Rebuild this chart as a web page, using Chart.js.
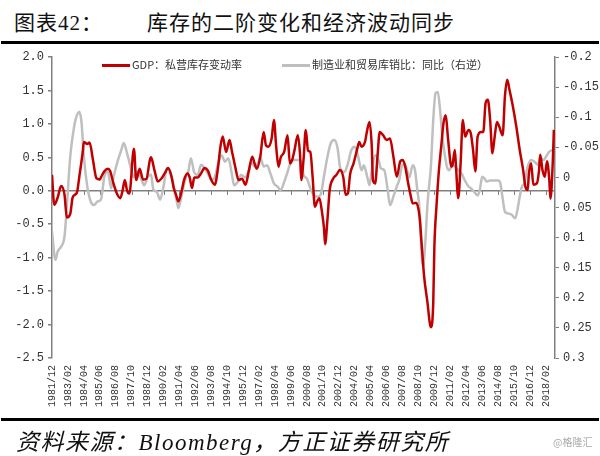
<!DOCTYPE html>
<html>
<head>
<meta charset="utf-8">
<script src="https://cdn.jsdelivr.net/npm/chart.js@4.4.0/dist/chart.umd.min.js"></script>
<style>
  body { margin: 0; background: #fff; }
  #wrap { position: relative; width: 600px; height: 456px; overflow: hidden; }
  .title { position: absolute; top: 6px; font-family: "Liberation Serif", "Noto Sans CJK SC", serif; font-size: 21px; color: #111; letter-spacing: 1px; }
  .rule { position: absolute; left: 1px; width: 598px; height: 3px; background: #000; }
  #legend { position: absolute; top: 56px; left: 102px; font-family: "Noto Sans CJK SC", sans-serif; font-size: 11px; color: #333; white-space: nowrap; }
  .item { position: absolute; top: 0; }
  .swatch { display: inline-block; width: 28px; height: 3px; vertical-align: middle; margin-right: 2px; position: relative; top: -1px; }
  #source { position: absolute; left: 16px; top: 423px; font-family: "Liberation Serif", "Noto Sans CJK SC", serif; font-style: italic; font-size: 23px; letter-spacing: 1.5px; color: #111; }
  #mark { position: absolute; left: 553px; top: 434px; font-family: "Noto Sans CJK SC", sans-serif; font-size: 10px; color: #aaa; }
  canvas { position: absolute; left: 0; top: 0; }
</style>
</head>
<body>
<div id="wrap">
  <div class="title" style="left:14px">图表42：</div>
  <div class="title" style="left:147px">库存的二阶变化和经济波动同步</div>
  <div class="rule" style="top:41px"></div>
  <canvas id="myChart" width="600" height="456"></canvas>
  <div id="legend"></div>
  <div class="rule" style="top:418px"></div>
  <div id="source">资料来源：Bloomberg，方正证券研究所</div>
  <div id="mark">@格隆汇</div>
</div>
<script>
// months counted from 1981/12
const startYear = 1981;
const startMonth = 12;
const lastMonth = 442;
const monthTickStep = 14;

const gdpLabel = 'GDP：私营库存变动率';
const gdpMonths = [0,2,5,8,11,13,16,18,20,22,24,27,28,31,33,36,39,42,43,46,49,51,54,57,60,62,64,66,68,72,74,77,80,83,86,87,90,93,96,99,102,105,107,109,111,114,116,119,121,123,125,128,131,134,137,140,143,146,148,150,153,156,158,161,164,167,170,173,176,178,180,183,186,188,190,193,195,197,199,201,204,207,209,211,213,216,218,219,221,223,225,227,229,231,233,235,237,239,240,242,244,247,250,253,256,258,260,262,265,268,270,272,275,277,279,281,282,284,286,288,291,294,297,300,303,306,308,310,313,315,317,320,323,325,327,330,332,333,335,336,338,340,342,344,346,348,351,352,354,355,357,359,361,363,366,368,370,372,374,377,379,381,383,385,387,389,391,393,396,398,400,402,405,408,411,414,416,418,419,421,423,426,428,429,431,433,435,437,438,440,441];
const gdpValues = [0.24,-0.21,-0.10,0.07,-0.06,-0.40,-0.35,-0.11,-0.06,-0.02,0.21,0.58,0.73,0.70,0.72,0.46,0.19,0.17,0.20,0.29,0.33,0.30,0.11,-0.04,-0.11,0.00,0.16,0.00,-0.04,0.63,0.16,0.33,0.17,0.18,0.46,0.50,0.31,0.14,0.18,0.26,0.34,0.21,0.04,-0.06,-0.16,0.00,0.16,0.26,0.20,0.04,0.20,0.20,0.26,0.34,0.30,0.16,0.09,0.36,0.66,0.81,0.58,0.76,0.60,0.36,0.16,0.18,0.09,0.30,0.51,0.41,0.33,0.51,0.88,0.68,0.66,0.78,1.06,0.66,0.36,0.50,0.58,0.83,0.41,0.46,0.60,0.83,0.53,0.16,0.46,0.91,0.60,0.58,0.21,-0.24,-0.16,-0.11,-0.29,-0.56,-0.80,-0.44,0.01,0.18,0.24,0.31,0.20,-0.06,-0.04,0.25,0.41,0.61,0.73,0.66,0.73,0.91,1.03,0.66,0.16,0.11,0.51,0.88,0.83,0.76,0.78,0.51,0.21,0.44,0.46,0.39,0.11,-0.06,-0.19,-0.18,-0.39,-0.84,-1.28,-1.68,-1.98,-2.04,-1.68,-0.84,-0.19,0.31,0.66,1.01,1.13,0.78,0.36,0.39,0.61,0.36,-0.11,0.39,1.06,0.81,0.91,0.86,0.61,0.29,0.81,0.88,0.88,1.31,1.36,1.06,0.56,0.81,1.03,0.96,0.83,1.41,1.66,1.51,1.26,0.96,0.61,0.31,0.06,0.01,0.24,0.41,0.09,0.11,0.31,0.54,0.31,0.21,0.44,0.16,-0.12,0.41,0.91];

const ratioLabel = '制造业和贸易库销比：同比（右逆）';
const ratioMonths = [0,3,5,8,11,13,16,19,21,24,26,28,31,34,37,40,43,46,49,52,54,58,61,63,66,69,72,75,78,81,84,87,89,92,95,98,101,104,107,110,111,114,117,120,122,125,128,131,134,137,140,143,146,149,152,155,158,160,163,166,170,173,175,178,181,183,186,189,192,195,198,201,204,207,210,213,216,219,221,224,227,230,233,236,239,242,245,248,251,253,255,257,260,263,266,269,272,274,277,279,281,284,287,289,292,295,297,300,303,305,308,311,314,317,319,321,323,324,326,328,330,333,335,337,339,341,343,345,347,349,352,354,357,360,363,366,368,371,374,376,378,380,382,385,392,394,396,398,401,404,407,409,411,413,415,418,421,424,427,429,432,434,437,441];
const ratioValues = [0.09,0.137,0.123,0.115,0.098,0.049,-0.034,-0.079,-0.098,-0.109,-0.09,-0.034,0.015,0.04,0.046,0.04,0.037,-0.001,-0.01,0.018,0.0,-0.029,-0.046,-0.057,-0.04,-0.018,0.0,-0.01,0.0,0.013,0.0,-0.005,0.02,0.024,0.037,0.015,-0.015,-0.01,0.015,0.043,0.051,0.029,0.004,-0.012,-0.032,-0.008,-0.004,-0.021,-0.015,-0.006,0.004,0.0,-0.023,-0.037,-0.026,-0.032,-0.006,0.013,0.008,-0.004,0.0,-0.013,-0.026,-0.018,-0.023,-0.034,-0.018,-0.02,-0.006,0.01,0.015,0.021,0.008,-0.009,-0.026,-0.029,-0.029,-0.026,-0.004,0.002,0.018,0.029,0.032,0.029,-0.002,-0.034,-0.057,-0.062,-0.048,-0.018,-0.01,-0.009,-0.023,-0.045,-0.051,-0.035,-0.012,-0.02,-0.001,0.013,-0.012,-0.037,-0.029,-0.015,-0.012,0.021,0.046,0.032,0.015,0.005,-0.021,-0.018,0.0,-0.02,-0.012,0.021,0.054,0.099,0.148,0.109,0.043,-0.02,-0.095,-0.14,-0.142,-0.112,-0.068,-0.04,-0.018,-0.012,-0.02,-0.018,-0.012,-0.006,0.006,0.015,0.018,0.024,0.03,0.02,-0.001,0.002,0.007,0.005,0.005,0.01,0.035,0.057,0.06,0.062,0.068,0.054,0.032,0.015,0.01,-0.018,-0.029,-0.026,-0.021,-0.032,-0.029,-0.034,-0.043,-0.046];

const gdpColor = '#C00000';
const ratioColor = '#BFBFBF';

const monthName = m => {
  const total = startYear * 12 + (startMonth - 1) + m;
  const y = Math.floor(total / 12);
  const mo = total % 12 + 1;
  return y + '/' + (mo < 10 ? '0' + mo : mo);
};

const toPoints = (months, values) => months.map((m, i) => ({ x: m, y: values[i] }));

const zeroTicks = {
  id: 'zeroTicks',
  beforeDatasetsDraw(chart) {
    const { ctx, scales } = chart;
    const y0 = Math.round(scales.y.getPixelForValue(0));
    ctx.save();
    ctx.strokeStyle = '#808080';
    ctx.lineWidth = 1;
    scales.x.ticks.forEach(t => {
      const px = Math.round(scales.x.getPixelForValue(t.value)) + 0.5;
      ctx.beginPath();
      ctx.moveTo(px, y0);
      ctx.lineTo(px, y0 + 4);
      ctx.stroke();
    });
    ctx.restore();
  }
};

const tickFont = { family: '"Liberation Mono", monospace', size: 12 };

const config = {
  type: 'line',
  data: {
    datasets: [{
      label: gdpLabel,
      data: toPoints(gdpMonths, gdpValues),
      borderColor: gdpColor,
      borderWidth: 2.5,
      pointRadius: 0,
      cubicInterpolationMode: 'monotone',
      yAxisID: 'y'
    }, {
      label: ratioLabel,
      data: toPoints(ratioMonths, ratioValues),
      borderColor: ratioColor,
      borderWidth: 2.5,
      pointRadius: 0,
      cubicInterpolationMode: 'monotone',
      yAxisID: 'y1'
    }]
  },
  options: {
    responsive: false,
    animation: false,
    layout: { padding: { top: 57, bottom: 0, left: 0, right: 0 } },
    plugins: { legend: { display: false }, tooltip: { enabled: false } },
    scales: {
      x: {
        type: 'linear',
        min: 0,
        max: lastMonth,
        grid: { display: false, drawTicks: false },
        border: { display: false },
        ticks: {
          stepSize: monthTickStep,
          includeBounds: false,
          autoSkip: false,
          minRotation: 90,
          maxRotation: 90,
          padding: 7,
          color: '#333',
          font: { family: '"Liberation Mono", monospace', size: 10 },
          callback: v => (v % monthTickStep === 0 ? monthName(v) : null)
        },
        afterFit: s => { s.height = 98; }
      },
      y: {
        position: 'left',
        min: -2.5,
        max: 2.0,
        grid: {
          color: c => (c.tick && Math.abs(c.tick.value) < 1e-9 ? '#808080' : 'rgba(0,0,0,0)'),
          lineWidth: 1.5,
          tickColor: '#808080',
          tickLength: 4
        },
        border: { color: '#808080', width: 1.5 },
        ticks: {
          stepSize: 0.5,
          color: '#333',
          font: tickFont,
          padding: 4,
          callback: v => v.toFixed(1)
        },
        afterFit: s => { s.width = 52; }
      },
      y1: {
        position: 'right',
        reverse: true,
        min: -0.2,
        max: 0.3,
        grid: { drawOnChartArea: false, tickColor: '#808080', tickLength: 4 },
        border: { color: '#808080', width: 1.5 },
        ticks: {
          stepSize: 0.05,
          color: '#333',
          font: tickFont,
          padding: 4,
          callback: v => String(parseFloat(v.toFixed(2)))
        },
        afterFit: s => { s.width = 45; }
      }
    }
  },
  plugins: [zeroTicks]
};

const myChart = new Chart(document.getElementById('myChart'), config);

// legend drawn as html over the plot
const legendBox = document.getElementById('legend');
const legendLeft = [0, 180];
myChart.data.datasets.forEach((ds, i) => {
  const item = document.createElement('span');
  item.className = 'item';
  item.style.left = legendLeft[i] + 'px';
  item.innerHTML = '<span class="swatch" style="background:' + ds.borderColor + '"></span>' + ds.label;
  legendBox.appendChild(item);
});
</script>
</body>
</html>
